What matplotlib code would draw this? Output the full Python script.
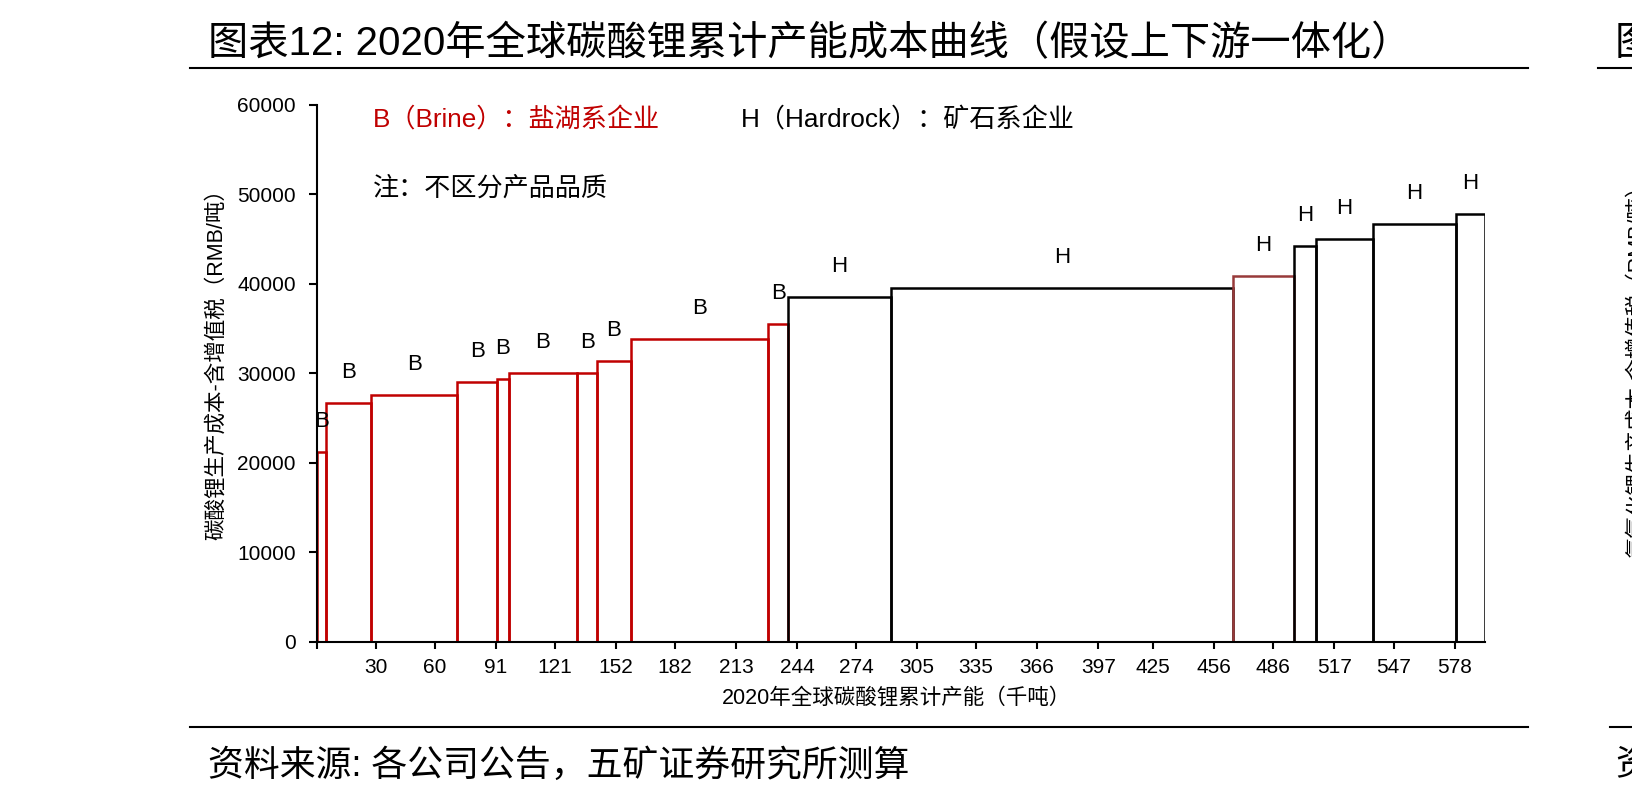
import matplotlib
matplotlib.use("Agg")
import matplotlib.pyplot as plt
from matplotlib.lines import Line2D

plt.rcParams["font.family"] = ["Liberation Sans", "Noto Sans CJK SC", "DejaVu Sans"]

# capacity per producer (kt) and cost (RMB/t, incl. VAT), sorted by cost
capacity = [5, 22.5, 44, 20, 6, 35, 10, 17, 70, 10, 52, 174, 31, 11, 29, 42, 15]
cost = [21200, 26700, 27600, 29000, 29350, 30000, 30000, 31400, 33850, 35500,
        38550, 39500, 40900, 44200, 45000, 46650, 47750]
kind = ["B"] * 10 + ["H"] * 7

x_ticks = [30, 60, 91, 121, 152, 182, 213, 244, 274, 305, 335, 366, 397, 425,
           456, 486, 517, 547, 578]
y_ticks = [0, 10000, 20000, 30000, 40000, 50000, 60000]

RED = "#c00000"
edge_colors = [RED] * 10 + ["black", "black", "#983a3a", "black", "black", "black", "black"]

fig = plt.figure(figsize=(16.33, 8), dpi=100)
ax = fig.add_axes([0.1939, 0.1979, 0.7155, 0.6712])

lefts = [sum(capacity[:i]) for i in range(len(capacity))]
ax.bar(lefts, cost, width=capacity, align="edge", fill=False,
       edgecolor=edge_colors, linewidth=1.8, zorder=2)
for l, w, c, k in zip(lefts, capacity, cost, kind):
    ax.text(l + w / 2, c + 3400, k, ha="center", va="center", fontsize=16, zorder=3)

ax.set_xlim(0, sum(capacity))
ax.set_ylim(0, 60000)
ax.set_xticks([0] + x_ticks)
ax.set_xticklabels([""] + [str(v) for v in x_ticks])
ax.set_yticks(y_ticks)
ax.set_yticklabels([str(v) for v in y_ticks])
ax.tick_params(axis="x", direction="out", length=5, width=1.5, labelsize=15, pad=7)
ax.tick_params(axis="y", direction="out", length=6, width=1.5, labelsize=15, pad=9)
for s in ["top", "right"]:
    ax.spines[s].set_visible(False)
for s in ["left", "bottom"]:
    ax.spines[s].set_linewidth(1.5)
    ax.spines[s].set_zorder(4)

ax.set_ylabel("碳酸锂生产成本-含增值税（RMB/吨）", fontsize=15.5, va="center")
ax.yaxis.set_label_coords(-0.0856, 0.526)
ax.set_xlabel("2020年全球碳酸锂累计产能（千吨）", fontsize=15.5, va="center")
ax.xaxis.set_label_coords(0.4967, -0.105)

ax.text(0.0485, 0.971, "B（Brine）：盐湖系企业", transform=ax.transAxes, color=RED,
        fontsize=18.8, va="center")
ax.text(0.363, 0.971, "H（Hardrock）：矿石系企业", transform=ax.transAxes,
        fontsize=18.8, va="center")
ax.text(0.0485, 0.844, "注：不区分产品品质", transform=ax.transAxes,
        fontsize=18.8, va="center")

# header / footer
fig.text(208 / 1633, 1 - 44 / 800, "图表12: 2020年全球碳酸锂累计产能成本曲线（假设上下游一体化）",
         fontsize=29, va="center")
fig.text(208 / 1633, 1 - 766 / 800, "资料来源: 各公司公告，五矿证券研究所测算",
         fontsize=25.8, va="center")
fig.add_artist(Line2D([190 / 1633, 1528 / 1633], [1 - 68 / 800] * 2, color="black", lw=1.5))
fig.add_artist(Line2D([190 / 1633, 1528 / 1633], [1 - 727 / 800] * 2, color="black", lw=1.5))

# cut-off start of the neighbouring chart
fig.add_artist(Line2D([1598 / 1633, 1.0], [1 - 68 / 800] * 2, color="black", lw=1.5))
fig.add_artist(Line2D([1610 / 1633, 1.0], [1 - 727 / 800] * 2, color="black", lw=1.5))
fig.text(1615 / 1633, 1 - 44 / 800, "图表13", fontsize=29, va="center")
fig.text(1615 / 1633, 1 - 766 / 800, "资料来源", fontsize=25.8, va="center")
fig.text(1637 / 1633, 1 - 365 / 800, "氢氧化锂生产成本-含增值税（RMB/吨）", fontsize=15.5,
         rotation=90, ha="center", va="center")

fig.savefig("out.png", dpi=100)
